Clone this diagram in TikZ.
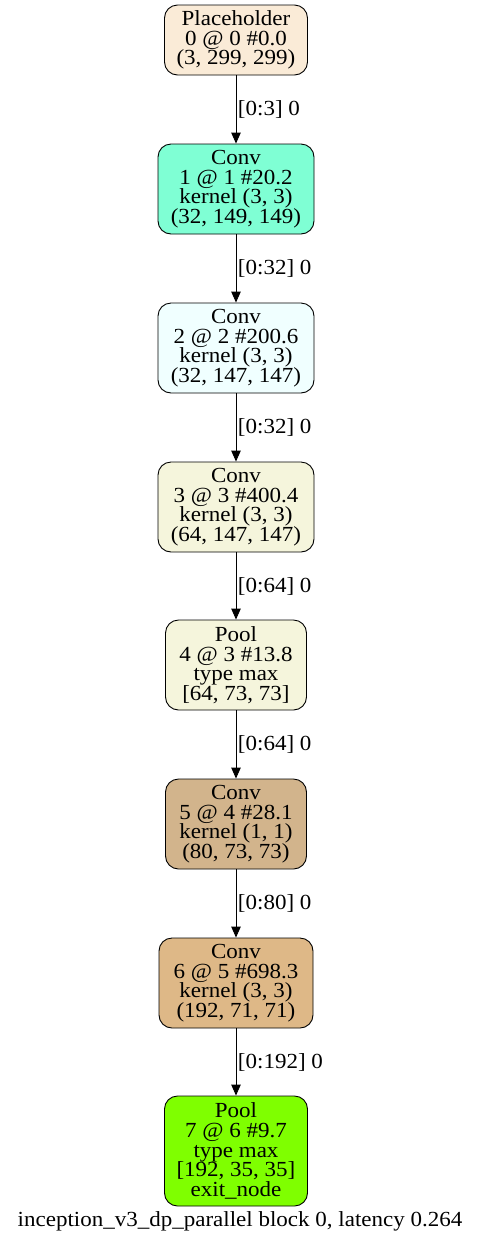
\documentclass[tikz,border=0pt]{standalone}
\usepackage{fontspec}
\setmainfont{Liberation Serif}[FakeStretch=1.07]
\usetikzlibrary{arrows.meta}
\definecolor{cantique}{HTML}{FAEBD7}
\definecolor{caqua}{HTML}{7FFFD4}
\definecolor{cazure}{HTML}{F0FFFF}
\definecolor{cbeige}{HTML}{F5F5DC}
\definecolor{ctan}{HTML}{D2B48C}
\definecolor{cburly}{HTML}{DEB887}
\definecolor{cchart}{HTML}{7FFF00}
\begin{document}
\begin{tikzpicture}[x=1pt,y=-1pt,
  box/.style={draw=black, line width=0.9pt, rounded corners=13pt, align=center,
    inner sep=0pt, font=\fontsize{21.5}{19.6}\selectfont},
  conn/.style={draw=black, line width=0.9pt, -{Triangle[length=11pt,width=9.5pt]}},
  elabel/.style={right, inner sep=0pt, xshift=1.5pt, font=\fontsize{21.5}{19.6}\selectfont}]
\useasboundingbox (0,0) rectangle (481,1243);
\node[box, fill=cantique, minimum width=143pt, minimum height=70pt] (n0) at (236,40) {Placeholder\\0 @ 0 \#0.0\\(3, 299, 299)};
\node[box, fill=caqua, minimum width=156pt, minimum height=90pt] (n1) at (236,189) {Conv\\1 @ 1 \#20.2\\kernel (3, 3)\\(32, 149, 149)};
\node[box, fill=cazure, minimum width=156pt, minimum height=90pt] (n2) at (236,348) {Conv\\2 @ 2 \#200.6\\kernel (3, 3)\\(32, 147, 147)};
\node[box, fill=cbeige, minimum width=156pt, minimum height=90pt] (n3) at (236,507) {Conv\\3 @ 3 \#400.4\\kernel (3, 3)\\(64, 147, 147)};
\node[box, fill=cbeige, minimum width=141pt, minimum height=90pt] (n4) at (236,665) {Pool\\4 @ 3 \#13.8\\type max\\{[}64, 73, 73{]}};
\node[box, fill=ctan, minimum width=141pt, minimum height=90pt] (n5) at (236,824) {Conv\\5 @ 4 \#28.1\\kernel (1, 1)\\(80, 73, 73)};
\node[box, fill=cburly, minimum width=154pt, minimum height=90pt] (n6) at (236,983) {Conv\\6 @ 5 \#698.3\\kernel (3, 3)\\(192, 71, 71)};
\node[box, fill=cchart, minimum width=143pt, minimum height=110pt] (n7) at (236,1151) {Pool\\7 @ 6 \#9.7\\type max\\{[}192, 35, 35{]}\\exit\_node};
\draw[conn] (n0) -- (n1) node[midway, elabel] {{[}0:3{]} 0};
\draw[conn] (n1) -- (n2) node[midway, elabel] {{[}0:32{]} 0};
\draw[conn] (n2) -- (n3) node[midway, elabel] {{[}0:32{]} 0};
\draw[conn] (n3) -- (n4) node[midway, elabel] {{[}0:64{]} 0};
\draw[conn] (n4) -- (n5) node[midway, elabel] {{[}0:64{]} 0};
\draw[conn] (n5) -- (n6) node[midway, elabel] {{[}0:80{]} 0};
\draw[conn] (n6) -- (n7) node[midway, elabel] {{[}0:192{]} 0};
\node[font=\fontsize{21.5}{19.6}\selectfont, inner sep=0pt] (cap) at (240,1221) {inception\_v3\_dp\_parallel block 0, latency 0.264};
\end{tikzpicture}
\end{document}
